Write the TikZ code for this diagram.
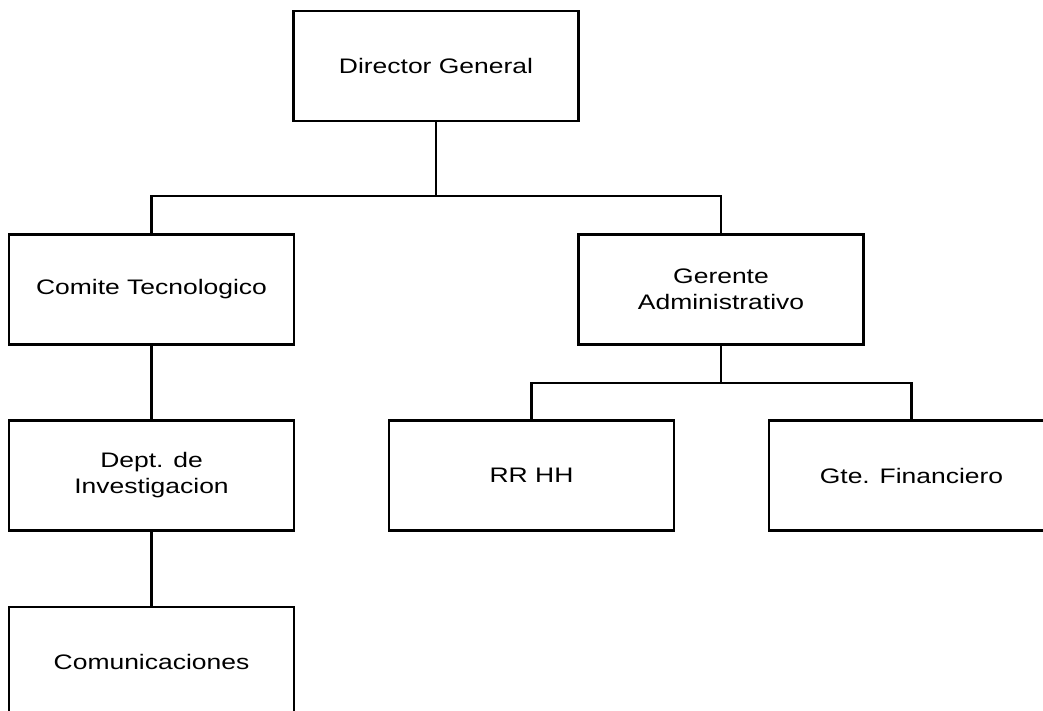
\documentclass[tikz,border=0pt]{standalone}
\usepackage{fontspec}
\setmainfont[FakeStretch=1.26]{Liberation Sans}
\begin{document}
\begin{tikzpicture}[x=1pt,y=-1pt,
  unit/.style={draw=black, line width=2.4pt, fill=white, minimum width=285pt,
    minimum height=110pt, inner sep=0pt, align=center,
    font=\fontsize{21}{26}\selectfont},
  link/.style={line width=2.4pt}]
  \useasboundingbox (0,0) rectangle (1043,711);
  \clip (0,0) rectangle (1043,711);
  % positions of the units
  \node[unit] (dg) at (436,66)      {Director General};
  \node[unit] (ct) at (151.5,289.5) {Comite Tecnologico};
  \node[unit] (ga) at (721,289.5)   {Gerente\\Administrativo};
  \node[unit] (di) at (151.5,475.5) {Dept. de\\Investigacion};
  \node[unit] (rh) at (531.5,475.5) {RR HH};
  \node[unit] (gf) at (911.5,475.5) {Gte. Financiero};
  \node[unit] (co) at (151.5,662)   {Comunicaciones};
  % branch points
  \coordinate (j1) at (436,196);
  \coordinate (j2) at (721,383);
  % connectors
  \draw[link] (dg.south) -- (j1);
  \draw[link] (ct.north) |- (j1) -| (ga.north);
  \draw[link] (ct.south) -- (di.north);
  \draw[link] (di.south) -- (co.north);
  \draw[link] (ga.south) -- (j2);
  \draw[link] (rh.north) |- (j2) -| (gf.north);
\end{tikzpicture}
\end{document}
